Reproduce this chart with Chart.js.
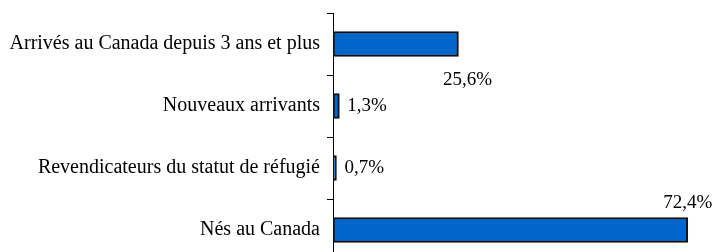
<!DOCTYPE html>
<html>
<head>
<meta charset="utf-8">
<script src="https://cdn.jsdelivr.net/npm/chart.js@4.4.1/dist/chart.umd.min.js"></script>
<style>
    html, body { margin: 0; padding: 0; background: #fff; overflow: hidden; }
    #wrap { position: relative; width: 728px; height: 262px; }
</style>
</head>
<body>
<div id="wrap"><canvas id="immigChart"></canvas></div>
<script>
// Répartition de la population selon le statut d'immigrant (%)
const categories = [
    'Arrivés au Canada depuis 3 ans et plus',
    'Nouveaux arrivants',
    'Revendicateurs du statut de réfugié',
    'Nés au Canada'
];
const shares = [25.6, 1.3, 0.7, 72.4];
const shareLabels = ['25,6%', '1,3%', '0,7%', '72,4%'];

window.addEventListener('load', initialize);

function initialize() {
    const fontFamily = 'Liberation Serif, Tinos, Times New Roman, DejaVu Serif, serif';

    // where each value label sits relative to the end of its bar
    const placement = ['below', 'right', 'right', 'above'];

    const valueLabels = {
        id: 'valueLabels',
        afterDatasetsDraw(chart) {
            const ctx = chart.ctx;
            const meta = chart.getDatasetMeta(0);
            ctx.save();
            ctx.font = '19px ' + fontFamily;
            ctx.fillStyle = '#000';
            meta.data.forEach((bar, i) => {
                const half = bar.height / 2;
                let x = bar.x, y = bar.y;
                if (placement[i] === 'right') {
                    ctx.textAlign = 'left';
                    ctx.textBaseline = 'middle';
                    x += 8;
                } else if (placement[i] === 'below') {
                    ctx.textAlign = 'center';
                    ctx.textBaseline = 'middle';
                    x += 9;
                    y += half + 24;
                } else {
                    ctx.textAlign = 'center';
                    ctx.textBaseline = 'middle';
                    y -= half + 14;
                }
                ctx.fillText(shareLabels[i], x, y);
            });
            ctx.restore();
        }
    };

    const ctx = document.getElementById('immigChart').getContext('2d');
    new Chart(ctx, {
        type: 'bar',
        data: {
            labels: categories,
            datasets: [{
                data: shares,
                backgroundColor: '#0066cc',
                borderColor: '#111',
                borderWidth: 2,
                borderSkipped: false,
                barThickness: 25
            }]
        },
        options: {
            indexAxis: 'y',
            responsive: true,
            maintainAspectRatio: false,
            animation: false,
            layout: { padding: { top: 13, right: 3, bottom: 1, left: 0 } },
            plugins: {
                legend: { display: false },
                tooltip: { enabled: false }
            },
            scales: {
                x: {
                    display: false,
                    min: 0,
                    max: 80
                },
                y: {
                    afterFit: s => {
                        s.width = 333;
                        s.paddingTop = 0;
                        s.paddingBottom = 0;
                    },
                    grid: {
                        drawOnChartArea: false,
                        drawTicks: true,
                        tickLength: 6,
                        tickColor: '#000',
                        offset: true
                    },
                    border: { display: true, color: '#000', width: 1 },
                    ticks: {
                        color: '#000',
                        padding: 7,
                        font: { family: fontFamily, size: 20 }
                    }
                }
            }
        },
        plugins: [valueLabels]
    });
}
</script>
</body>
</html>
